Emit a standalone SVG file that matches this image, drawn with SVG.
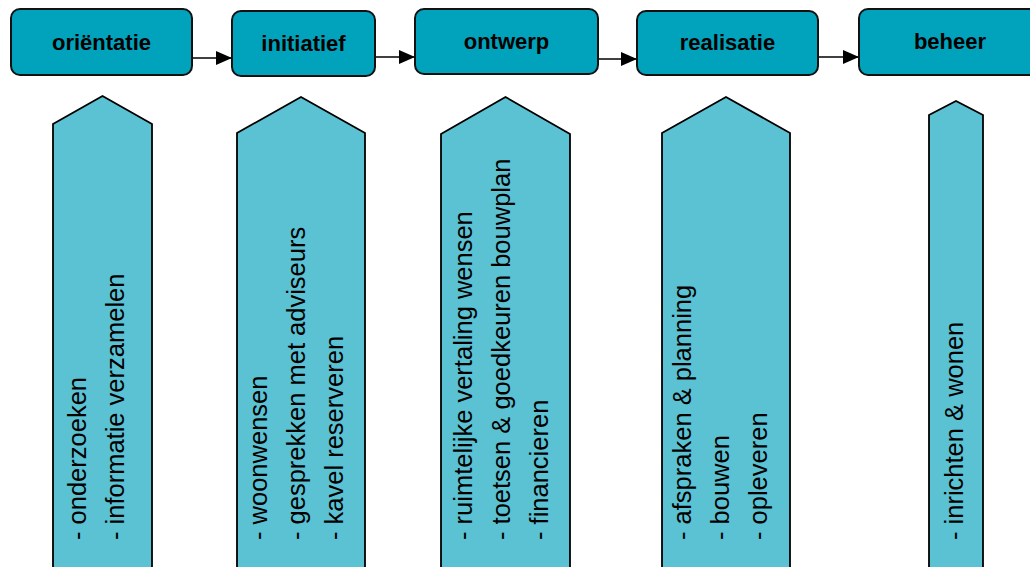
<svg xmlns="http://www.w3.org/2000/svg" width="1030" height="567" viewBox="0 0 1030 567">
<defs>
<marker id="ah" viewBox="0 0 16 14" refX="16" refY="7" markerWidth="16" markerHeight="14" markerUnits="userSpaceOnUse" orient="auto">
<path d="M0,0 L16,7 L0,14 Z" fill="#000"/>
</marker>
</defs>
<style>
.box{fill:#00A3BB;stroke:#111;stroke-width:2}
.lbl{font-family:"Liberation Sans",Arial,sans-serif;font-weight:bold;font-size:22px;fill:#000;text-anchor:middle}
.pent{fill:#5BC2D3;stroke:#000;stroke-width:1.8}
.txt{font-family:"Liberation Sans",Arial,sans-serif;font-size:25.5px;fill:#000}
.con{stroke:#000;stroke-width:1.6;fill:none;marker-end:url(#ah)}
</style>
<rect width="1030" height="567" fill="#fff"/>
<g id="connectors">
<line class="con" x1="192" y1="58" x2="232" y2="58"/>
<line class="con" x1="375" y1="57" x2="415" y2="57"/>
<line class="con" x1="598" y1="59" x2="637" y2="59"/>
<line class="con" x1="818" y1="57" x2="859" y2="57"/>
</g>
<g id="orientatie">
<rect class="box" x="11" y="9" width="181" height="66" rx="9"/>
<text class="lbl" x="101.5" y="50">oriëntatie</text>
</g>
<g id="initiatief">
<rect class="box" x="232" y="11" width="143" height="65" rx="9"/>
<text class="lbl" x="303.5" y="51">initiatief</text>
</g>
<g id="ontwerp">
<rect class="box" x="415" y="9" width="183" height="65" rx="9"/>
<text class="lbl" x="506.5" y="49">ontwerp</text>
</g>
<g id="realisatie">
<rect class="box" x="637" y="11" width="181" height="64" rx="9"/>
<text class="lbl" x="727.5" y="50">realisatie</text>
</g>
<g id="beheer">
<rect class="box" x="859" y="9" width="182" height="66" rx="9"/>
<text class="lbl" x="950" y="49">beheer</text>
</g>
<g id="p-orientatie">
<path class="pent" d="M53,580 L53,124 L102.5,96 L152,124 L152,580"/>
<text class="txt" transform="translate(86,540) rotate(-90)">- onderzoeken</text>
<text class="txt" transform="translate(124,540) rotate(-90)">- informatie verzamelen</text>
</g>
<g id="p-initiatief">
<path class="pent" d="M237,580 L237,133 L301,97 L365,133 L365,580"/>
<text class="txt" transform="translate(267,540) rotate(-90)">- woonwensen</text>
<text class="txt" transform="translate(305,540) rotate(-90)">- gesprekken met adviseurs</text>
<text class="txt" transform="translate(343,540) rotate(-90)">- kavel reserveren</text>
</g>
<g id="p-ontwerp">
<path class="pent" d="M441,580 L441,134 L505.5,97 L570,134 L570,580"/>
<text class="txt" transform="translate(472,540) rotate(-90)">- ruimtelijke vertaling wensen</text>
<text class="txt" transform="translate(510,540) rotate(-90)">- toetsen &amp; goedkeuren bouwplan</text>
<text class="txt" transform="translate(548,540) rotate(-90)">- financieren</text>
</g>
<g id="p-realisatie">
<path class="pent" d="M662,580 L662,133 L726,97 L790,133 L790,580"/>
<text class="txt" transform="translate(691,540) rotate(-90)">- afspraken &amp; planning</text>
<text class="txt" transform="translate(729,540) rotate(-90)">- bouwen</text>
<text class="txt" transform="translate(767,540) rotate(-90)">- opleveren</text>
</g>
<g id="p-beheer">
<path class="pent" d="M929,580 L929,115 L956,101 L983,115 L983,580"/>
<text class="txt" transform="translate(963,540) rotate(-90)">- inrichten &amp; wonen</text>
</g>
</svg>
